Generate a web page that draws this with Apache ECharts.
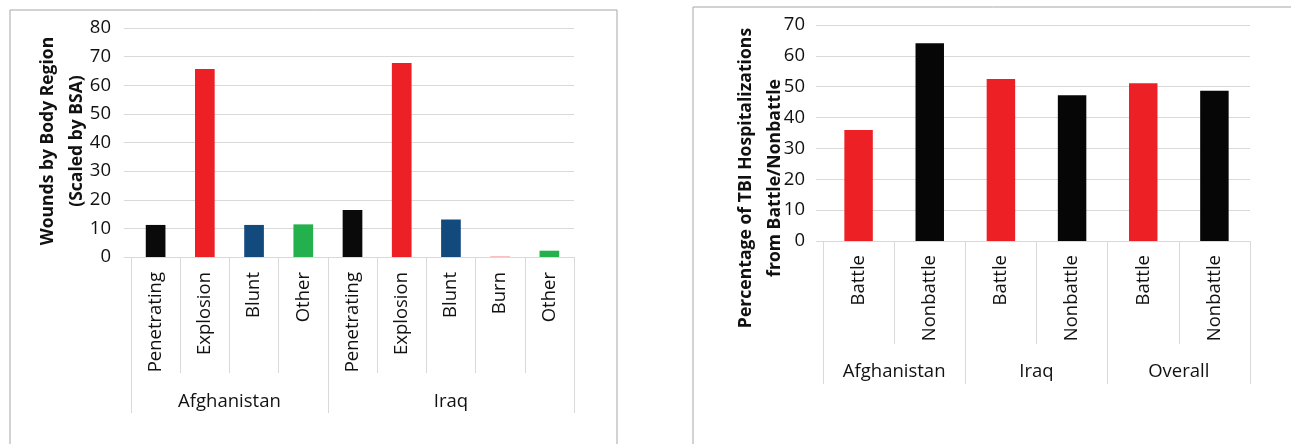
<!DOCTYPE html>
<html>
<head>
<meta charset="utf-8">
<script src="https://cdn.jsdelivr.net/npm/echarts@6/dist/echarts.min.js"></script>
<style>
  html, body { margin: 0; padding: 0; background: #ffffff; }
  #chart { width: 1291px; height: 444px; }
</style>
</head>
<body>
<div id="chart"></div>
<script>
// ---- Wounds by body region, by mechanism and theater ----
const woundCategories = ['Penetrating', 'Explosion', 'Blunt', 'Other', 'Penetrating', 'Explosion', 'Blunt', 'Burn', 'Other'];
const woundValues = [11.2, 65.7, 11.2, 11.4, 16.4, 67.8, 13.1, 0.1, 2.2];
const woundGroups = ['Afghanistan', 'Iraq'];
const woundGroupSizes = [4, 5];
const woundTicks = [0, 10, 20, 30, 40, 50, 60, 70, 80];

// ---- TBI hospitalizations, battle vs nonbattle ----
const tbiCategories = ['Battle', 'Nonbattle', 'Battle', 'Nonbattle', 'Battle', 'Nonbattle'];
const tbiValues = [36.0, 64.1, 52.5, 47.2, 51.1, 48.7];
const tbiGroups = ['Afghanistan', 'Iraq', 'Overall'];
const tbiGroupSizes = [2, 2, 2];
const tbiTicks = [0, 10, 20, 30, 40, 50, 60, 70];

const mechanismColors = {
  Penetrating: '#0a0a0a',
  Explosion: '#ed2026',
  Blunt: '#134a7e',
  Burn: '#ed2026',
  Other: '#24b04c'
};
const contextColors = { Battle: '#ed2026', Nonbattle: '#060606' };

const FONT = '"Open Sans", sans-serif';
const LINE = '#d9d9d9';
const TEXT = '#111111';
const labelFont = { fontFamily: FONT, fontSize: 18.5, color: TEXT };

function groupLayout(sizes) {
  const bounds = [0];
  const centers = [];
  sizes.forEach(s => {
    const start = bounds[bounds.length - 1];
    centers.push(start + s / 2);
    bounds.push(start + s);
  });
  return { bounds, centers, total: bounds[bounds.length - 1] };
}

function categoryAxis(gridIndex, cats, tickLen, margin) {
  return {
    type: 'category', gridIndex, position: 'bottom', data: cats,
    axisLine: { show: true, lineStyle: { color: LINE, width: 1 } },
    axisTick: { show: true, interval: 0, length: tickLen, lineStyle: { color: LINE, width: 1 } },
    axisLabel: Object.assign({ interval: 0, rotate: 90, margin }, labelFont),
    splitLine: { show: false }
  };
}

function groupAxis(gridIndex, names, sizes, tickLen, margin) {
  const g = groupLayout(sizes);
  return {
    type: 'value', gridIndex, position: 'bottom', min: 0, max: g.total,
    axisLine: { show: false },
    splitLine: { show: false },
    axisTick: { show: true, customValues: g.bounds, length: tickLen, lineStyle: { color: LINE, width: 1 } },
    axisLabel: Object.assign({
      customValues: g.centers, margin, verticalAlign: 'middle',
      formatter: v => names[g.centers.indexOf(v)] || ''
    }, labelFont)
  };
}

function valueAxis(gridIndex, ticks, margin) {
  return {
    type: 'value', gridIndex,
    min: ticks[0], max: ticks[ticks.length - 1], interval: ticks[1] - ticks[0],
    axisLine: { show: false },
    axisTick: { show: true, length: 7, lineStyle: { color: LINE, width: 1 } },
    splitLine: { show: true, lineStyle: { color: LINE, width: 1 } },
    axisLabel: Object.assign({ margin }, labelFont)
  };
}

function barSeries(axisIndex, cats, values, colors) {
  return {
    type: 'bar', xAxisIndex: axisIndex, yAxisIndex: axisIndex === 0 ? 0 : 1,
    barWidth: '40%',
    data: values.map((v, i) => ({ value: v, itemStyle: { color: colors[cats[i]] } })),
    silent: true
  };
}

const chart = echarts.init(document.getElementById('chart'), null, { renderer: 'canvas' });

chart.setOption({
  backgroundColor: '#ffffff',
  animation: false,
  grid: [
    { left: 131, top: 28, width: 443, height: 229, containLabel: false },
    { left: 823, top: 25, width: 427, height: 216, containLabel: false }
  ],
  xAxis: [
    categoryAxis(0, woundCategories, 116, 15),
    categoryAxis(1, tbiCategories, 103, 14),
    groupAxis(0, woundGroups, woundGroupSizes, 156, 145),
    groupAxis(1, tbiGroups, tbiGroupSizes, 143, 131)
  ],
  yAxis: [
    valueAxis(0, woundTicks, 20),
    valueAxis(1, tbiTicks, 18)
  ],
  series: [
    barSeries(0, woundCategories, woundValues, mechanismColors),
    barSeries(1, tbiCategories, tbiValues, contextColors)
  ],
  graphic: [
    { type: 'rect', z: -1, silent: true, shape: { x: 10, y: 10, width: 607, height: 460 },
      style: { fill: null, stroke: '#a6a6a6', lineWidth: 1 } },
    { type: 'rect', z: -1, silent: true, shape: { x: 693, y: 7, width: 700, height: 460 },
      style: { fill: null, stroke: '#a6a6a6', lineWidth: 1 } },
    { type: 'text', x: 63, y: 141, rotation: Math.PI / 2, silent: true,
      style: { text: 'Wounds by Body Region\n(Scaled by BSA)', font: 'bold 17.5px ' + FONT,
               fill: TEXT, align: 'center', verticalAlign: 'middle', lineHeight: 29 } },
    { type: 'text', x: 760, y: 178, rotation: Math.PI / 2, silent: true,
      style: { text: 'Percentage of TBI Hospitalizations\nfrom Battle/Nonbattle', font: 'bold 17.6px ' + FONT,
               fill: TEXT, align: 'center', verticalAlign: 'middle', lineHeight: 29 } }
  ]
});
</script>
</body>
</html>
